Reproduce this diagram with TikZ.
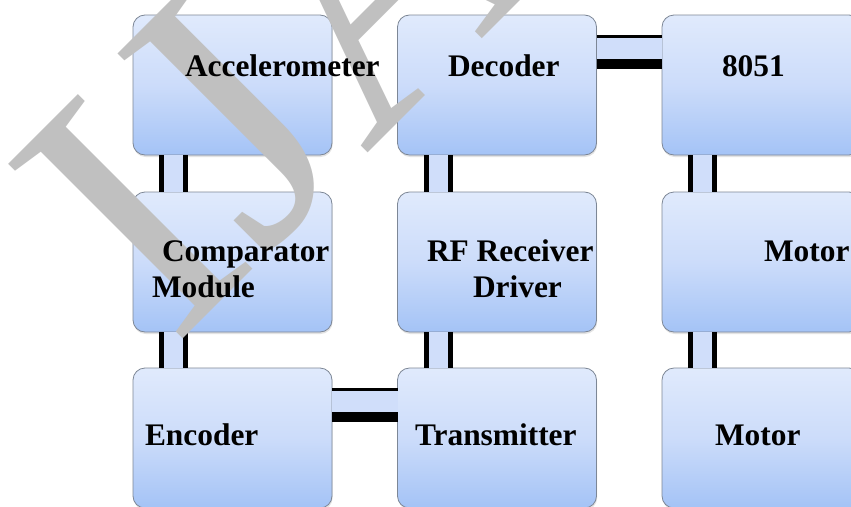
\documentclass[tikz,border=0pt]{standalone}
\usepackage{fontspec}
\setmainfont{Liberation Serif}
\usetikzlibrary{calc,shadows}
\definecolor{boxtop}{RGB}{224,234,252}
\definecolor{boxmid}{RGB}{204,220,250}
\definecolor{boxbot}{RGB}{164,195,246}
\definecolor{cfill}{RGB}{208,222,250}
\definecolor{wmgray}{RGB}{192,192,192}
\definecolor{boxedge}{RGB}{125,135,150}
\newcommand\vconn[2]{%
  \fill[cfill] ($(#1.south west)+(26,0)$) rectangle ($(#2.north west)+(55,0)$);
  \draw[vline] ($(#1.south west)+(28.5,0)$) -- ($(#2.north west)+(28.5,0)$);
  \draw[vline] ($(#1.south west)+(52.5,0)$) -- ($(#2.north west)+(52.5,0)$);}
\newcommand\hconn[2]{%
  \fill[cfill] ($(#1.north east)+(0,20)$) rectangle ($(#2.north west)+(0,54)$);
  \draw[hthin] ($(#1.north east)+(0,21.5)$) -- ($(#2.north west)+(0,21.5)$);
  \draw[hthick] ($(#1.north east)+(0,49)$) -- ($(#2.north west)+(0,49)$);}
\begin{document}
\begin{tikzpicture}[x=1pt,y=-1pt,
  blk/.style={rounded corners=12pt, draw=boxedge, line width=0.8pt,
    top color=boxtop, bottom color=boxbot, middle color=boxmid,
    minimum width=199pt, minimum height=140pt, inner sep=0pt, outer sep=0pt,
    drop shadow={shadow xshift=0.6pt, shadow yshift=-2pt, opacity=0.22}},
  lbl/.style={anchor=base west, inner sep=0pt, outer sep=0pt,
    font=\bfseries\fontsize{31.4}{36}\selectfont},
  vline/.style={line width=5pt, line cap=butt, black},
  hthin/.style={line width=3.5pt, line cap=butt, black},
  hthick/.style={line width=10pt, line cap=butt, black},
  wm/.style={anchor=base west, rotate=45, inner sep=0pt, outer sep=0pt,
    text=wmgray, font=\fontsize{377}{377}\selectfont}]
\useasboundingbox (0,0) rectangle (851,506);
\clip (0,0) rectangle (851,506);
\fill[white] (0,0) rectangle (851,506);
% boxes
\node[blk] (acc)  at (232.5,85)  {};
\node[blk] (dec)  at (497,85)    {};
\node[blk] (mcu)  at (761.5,85)  {};
\node[blk] (cmp)  at (232.5,262) {};
\node[blk] (rfr)  at (497,262)   {};
\node[blk] (mot1) at (761.5,262) {};
\node[blk] (enc)  at (232.5,438) {};
\node[blk] (trx)  at (497,438)   {};
\node[blk] (mot2) at (761.5,438) {};
% connectors
\vconn{acc}{cmp}
\vconn{cmp}{enc}
\vconn{dec}{rfr}
\vconn{rfr}{trx}
\vconn{mcu}{mot1}
\vconn{mot1}{mot2}
\hconn{dec}{mcu}
\hconn{enc}{trx}
% watermark
\node[wm] (wmark) at (173,348) {IJA};
% labels
\node[lbl] (accT)  at (185,76)  {Accelerometer};
\node[lbl] (decT)  at (448,76)  {Decoder};
\node[lbl] (mcuT)  at (722,76)  {8051};
\node[lbl] (cmpT1) at (162,261) {Comparator};
\node[lbl] (cmpT2) at (152,297) {Module};
\node[lbl] (rfrT1) at (427,261) {RF Receiver};
\node[lbl] (rfrT2) at (473,297) {Driver};
\node[lbl] (mot1T) at (764,261) {Motor};
\node[lbl] (encT)  at (145,445) {Encoder};
\node[lbl] (trxT)  at (415,445) {Transmitter};
\node[lbl] (mot2T) at (715,445) {Motor};
\end{tikzpicture}
\end{document}
